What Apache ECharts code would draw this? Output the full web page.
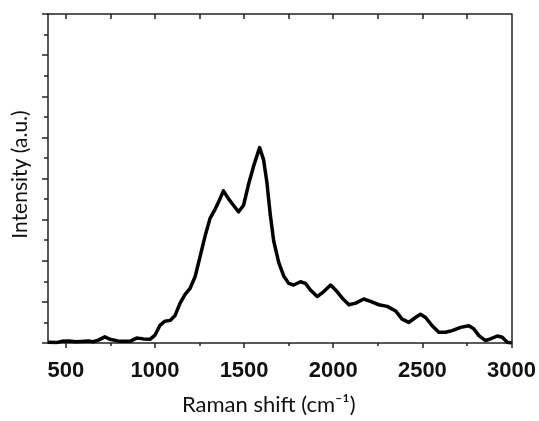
<!DOCTYPE html>
<html>
<head>
<meta charset="utf-8">
<script src="https://cdn.jsdelivr.net/npm/echarts@6/dist/echarts.min.js"></script>
<style>
html,body{margin:0;padding:0;background:#fff;}
#chart{width:539px;height:421px;}
</style>
</head>
<body>
<div id="chart"></div>
<script>
// Raman shift (cm^-1)
var ramanShift = [400,448,476,514,560,626,654,682,719,747,803,860,897,935,972,1000,1028,1056,1085,1113,1141,1169,1197,1225,1253,1281,1309,1337,1356,1384,1412,1440,1469,1497,1525,1553,1587,1609,1628,1647,1666,1694,1722,1750,1778,1816,1844,1872,1910,1947,1985,2013,2051,2088,2126,2171,2209,2256,2303,2350,2386,2424,2461,2489,2518,2555,2592,2630,2667,2714,2761,2789,2817,2854,2882,2920,2948,2976,3000];
// Intensity (a.u.)
var intensity = [0.02,0.01,0.04,0.05,0.03,0.05,0.03,0.07,0.15,0.09,0.04,0.04,0.12,0.10,0.09,0.19,0.43,0.53,0.55,0.67,0.97,1.18,1.33,1.61,2.10,2.60,3.03,3.25,3.42,3.70,3.51,3.35,3.19,3.35,3.86,4.30,4.75,4.46,3.90,3.11,2.48,1.96,1.63,1.45,1.41,1.49,1.45,1.29,1.13,1.25,1.41,1.29,1.09,0.93,0.97,1.07,1.01,0.93,0.89,0.78,0.58,0.50,0.62,0.70,0.62,0.42,0.26,0.26,0.30,0.38,0.42,0.34,0.18,0.06,0.10,0.17,0.14,0.02,0.00];
var xTickLabels = [500,1000,1500,2000,2500,3000];
var xMinorTicks = [750,1250,1750,2250,2750];
var xTopTicks = [500,750,1000,1250,1500,1750,2000,2250,2500,2750];
var xTitle = 'Raman shift (cm\u207B\u00B9)';
var yTitle = 'Intensity (a.u.)';

var lineCol = '#222';
var chart = echarts.init(document.getElementById('chart'), null, {renderer:'canvas'});
var pts = ramanShift.map(function(x,i){return [x, intensity[i]];});

chart.setOption({
  animation:false,
  backgroundColor:'#fff',
  grid:{left:48,right:27,top:14,bottom:69,containLabel:false},
  xAxis:[
    {type:'value',position:'bottom',min:400,max:3000,
     axisLine:{show:true,onZero:false,lineStyle:{color:lineCol,width:1.5}},
     axisTick:{show:true,customValues:xTickLabels,length:5,lineStyle:{color:lineCol,width:1.5}},
     axisLabel:{show:true,customValues:xTickLabels,margin:17,color:'#111',
       fontFamily:'Liberation Sans, Arial',fontWeight:'bold',fontSize:22,
       formatter:function(v){return String(v);}},
     splitLine:{show:false},
     name:xTitle,nameLocation:'middle',nameGap:51,
     nameTextStyle:{fontFamily:'Lato',fontSize:22,color:'#111',padding:[0,22,0,0]}
    },
    {type:'value',position:'bottom',min:400,max:3000,
     axisLine:{show:false,onZero:false},
     axisTick:{show:true,customValues:xMinorTicks,length:3,lineStyle:{color:lineCol,width:1.5}},
     axisLabel:{show:false},splitLine:{show:false}
    },
    {type:'value',position:'top',min:400,max:3000,
     axisLine:{show:true,onZero:false,lineStyle:{color:lineCol,width:1.5}},
     axisTick:{show:true,inside:true,customValues:xTopTicks,length:5,lineStyle:{color:lineCol,width:1.5}},
     axisLabel:{show:false},splitLine:{show:false}
    }
  ],
  yAxis:[
    {type:'value',position:'left',min:0,max:8,interval:1,
     axisLine:{show:true,onZero:false,lineStyle:{color:lineCol,width:1.5}},
     axisTick:{show:true,length:6,lineStyle:{color:lineCol,width:1.5}},
     minorTick:{show:true,splitNumber:2,length:4,lineStyle:{color:lineCol,width:1.5}},
     axisLabel:{show:false},splitLine:{show:false},minorSplitLine:{show:false},
     name:yTitle,nameLocation:'middle',nameGap:17,
     nameTextStyle:{fontFamily:'Lato',fontSize:21,color:'#111',padding:[0,0,0,8]}
    },
    {type:'value',position:'right',min:0,max:8,
     axisLine:{show:true,onZero:false,lineStyle:{color:lineCol,width:1.5}},
     axisTick:{show:false},axisLabel:{show:false},splitLine:{show:false}
    }
  ],
  series:[{
    type:'line',xAxisIndex:0,yAxisIndex:0,data:pts,
    showSymbol:false,symbol:'none',smooth:false,
    lineStyle:{color:'#000',width:3.5,join:'round'},
    clip:true
  }]
});
</script>
</body>
</html>
